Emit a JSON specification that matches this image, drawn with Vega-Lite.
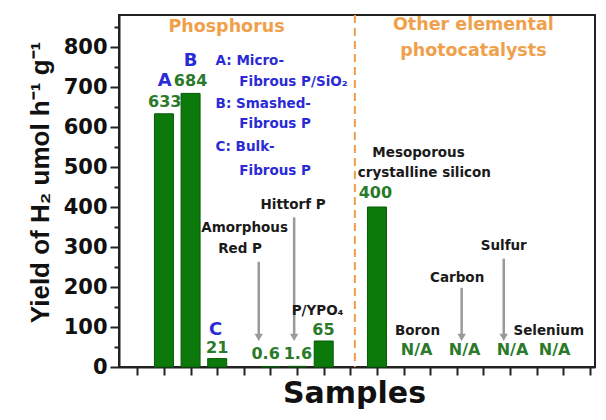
{
  "$schema": "https://vega.github.io/schema/vega-lite/v6.json",
  "width": 476,
  "height": 352,
  "autosize": {"type": "none"},
  "padding": {"left": 119, "top": 15, "right": 11, "bottom": 53},
  "background": "white",
  "config": {
    "view": {"stroke": "#222222", "strokeWidth": 2},
    "font": "DejaVu Sans"
  },
  "datasets": {
    "bars": [
      {"sample": "A", "x": 2, "value": 633},
      {"sample": "B", "x": 3, "value": 684},
      {"sample": "C", "x": 4, "value": 21},
      {"sample": "Amorphous Red P", "x": 6, "value": 0.6},
      {"sample": "Hittorf P", "x": 7, "value": 1.6},
      {"sample": "P/YPO4", "x": 8, "value": 65},
      {"sample": "Mesoporous crystalline silicon", "x": 10, "value": 400}
    ],
    "greenLabels": [
      {"x": 2.03, "y": 662, "t": "633"},
      {"x": 3.0, "y": 714, "t": "684"},
      {"x": 4.0, "y": 48, "t": "21"},
      {"x": 5.82, "y": 33, "t": "0.6"},
      {"x": 7.03, "y": 33, "t": "1.6"},
      {"x": 7.99, "y": 93, "t": "65"},
      {"x": 9.94, "y": 434, "t": "400"},
      {"x": 11.49, "y": 43, "t": "N/A"},
      {"x": 13.29, "y": 43, "t": "N/A"},
      {"x": 15.09, "y": 43, "t": "N/A"},
      {"x": 16.67, "y": 43, "t": "N/A"}
    ],
    "letters": [
      {"x": 2.03, "y": 714, "t": "A"},
      {"x": 3.0, "y": 764, "t": "B"},
      {"x": 3.94, "y": 93, "t": "C"}
    ],
    "legendLines": [
      {"x": 3.94, "y": 764, "t": "A: Micro-"},
      {"x": 4.83, "y": 712, "t": "Fibrous P/SiO₂"},
      {"x": 3.94, "y": 657, "t": "B: Smashed-"},
      {"x": 4.83, "y": 607, "t": "Fibrous P"},
      {"x": 3.94, "y": 549, "t": "C: Bulk-"},
      {"x": 4.83, "y": 489, "t": "Fibrous P"}
    ],
    "names": [
      {"x": 5.03, "y": 348, "t": "Amorphous"},
      {"x": 4.86, "y": 296, "t": "Red P"},
      {"x": 6.85, "y": 404, "t": "Hittorf P"},
      {"x": 7.77, "y": 140, "t": "P/YPO₄"},
      {"x": 11.56, "y": 536, "t": "Mesoporous"},
      {"x": 11.78, "y": 484, "t": "crystalline silicon"},
      {"x": 11.52, "y": 90, "t": "Boron"},
      {"x": 13.01, "y": 223, "t": "Carbon"},
      {"x": 14.76, "y": 303, "t": "Sulfur"},
      {"x": 16.45, "y": 90, "t": "Selenium"}
    ],
    "headers": [
      {"x": 4.35, "y": 850, "t": "Phosphorus"},
      {"x": 13.62, "y": 855, "t": "Other elemental"},
      {"x": 13.62, "y": 789, "t": "photocatalysts"}
    ],
    "arrows": [
      {"x": 5.56, "top": 263, "head": 74},
      {"x": 6.89, "top": 374, "head": 74},
      {"x": 13.18, "top": 198, "head": 74},
      {"x": 14.76, "top": 271, "head": 74}
    ],
    "divider": [{"x": 9.17}]
  },
  "layer": [
    {
      "data": {"name": "bars"},
      "mark": {"type": "bar", "width": 19, "fill": "#0b7a0b", "stroke": "#075a07", "strokeWidth": 1},
      "encoding": {
        "x": {
          "field": "x", "type": "quantitative",
          "scale": {"domain": [0.5, 18], "nice": false, "zero": false},
          "axis": {
            "values": [1,2,3,4,5,6,7,8,9,10,11,12,13,14,15,16,17,18],
            "tickCount": 40,
            "labels": false, "grid": false,
            "tickSize": 8, "tickWidth": 2, "tickColor": "#222222",
            "domainColor": "#222222", "domainWidth": 2,
            "title": "Samples", "titleFont": "DejaVu Sans", "titleFontWeight": "bold",
            "titleFontSize": 30, "titleColor": "#111111", "titlePadding": 2, "titleX": 235
          }
        },
        "y": {
          "field": "value", "type": "quantitative",
          "scale": {"domain": [0, 880], "nice": false},
          "axis": {
            "values": [0,50,100,150,200,250,300,350,400,450,500,550,600,650,700,750,800,850],
            "tickCount": 40,
            "labelExpr": "datum.value % 100 === 0 ? datum.label : ''",
            "labelOverlap": false,
            "grid": false,
            "tickSize": {"condition": {"test": "datum.value % 100 === 0", "value": 9}, "value": 5},
            "tickWidth": 2, "tickColor": "#222222",
            "domainColor": "#222222", "domainWidth": 2,
            "labelFont": "DejaVu Sans", "labelFontWeight": "bold", "labelFontSize": 21,
            "labelColor": "#111111", "labelPadding": 3,
            "title": "Yield of H₂ umol h⁻¹ g⁻¹", "titleFont": "Liberation Sans",
            "titleFontWeight": "bold", "titleFontSize": 26, "titleColor": "#111111",
            "titlePadding": 10, "titleY": 167
          }
        }
      }
    },
    {
      "data": {"name": "divider"},
      "mark": {"type": "rule", "stroke": "#f0a04b", "strokeWidth": 2, "strokeDash": [8, 5]},
      "encoding": {"x": {"field": "x", "type": "quantitative"}}
    },
    {
      "data": {"name": "arrows"},
      "mark": {"type": "rule", "stroke": "#9a9a9a", "strokeWidth": 2.5},
      "encoding": {
        "x": {"field": "x", "type": "quantitative"},
        "y": {"field": "top", "type": "quantitative"},
        "y2": {"field": "head"}
      }
    },
    {
      "data": {"name": "arrows"},
      "mark": {"type": "point", "shape": "triangle-down", "filled": true, "fill": "#9a9a9a", "size": 70, "opacity": 1},
      "encoding": {
        "x": {"field": "x", "type": "quantitative"},
        "y": {"field": "head", "type": "quantitative"}
      }
    },
    {
      "data": {"name": "greenLabels"},
      "mark": {"type": "text", "font": "DejaVu Sans", "fontWeight": "bold", "fontSize": 16, "fill": "#2a7a2a", "baseline": "middle", "align": "center"},
      "encoding": {
        "x": {"field": "x", "type": "quantitative"},
        "y": {"field": "y", "type": "quantitative"},
        "text": {"field": "t"}
      }
    },
    {
      "data": {"name": "letters"},
      "mark": {"type": "text", "font": "DejaVu Sans", "fontWeight": "bold", "fontSize": 18, "fill": "#2b2bd6", "baseline": "middle", "align": "center"},
      "encoding": {
        "x": {"field": "x", "type": "quantitative"},
        "y": {"field": "y", "type": "quantitative"},
        "text": {"field": "t"}
      }
    },
    {
      "data": {"name": "legendLines"},
      "mark": {"type": "text", "font": "DejaVu Sans", "fontWeight": "bold", "fontSize": 13.5, "fill": "#2b2bd6", "baseline": "middle", "align": "left"},
      "encoding": {
        "x": {"field": "x", "type": "quantitative"},
        "y": {"field": "y", "type": "quantitative"},
        "text": {"field": "t"}
      }
    },
    {
      "data": {"name": "names"},
      "mark": {"type": "text", "font": "DejaVu Sans", "fontWeight": "bold", "fontSize": 13.5, "fill": "#1a1a1a", "baseline": "middle", "align": "center"},
      "encoding": {
        "x": {"field": "x", "type": "quantitative"},
        "y": {"field": "y", "type": "quantitative"},
        "text": {"field": "t"}
      }
    },
    {
      "data": {"name": "headers"},
      "mark": {"type": "text", "font": "DejaVu Sans", "fontWeight": "bold", "fontSize": 17.5, "fill": "#f0a04b", "baseline": "middle", "align": "center"},
      "encoding": {
        "x": {"field": "x", "type": "quantitative"},
        "y": {"field": "y", "type": "quantitative"},
        "text": {"field": "t"}
      }
    }
  ]
}
